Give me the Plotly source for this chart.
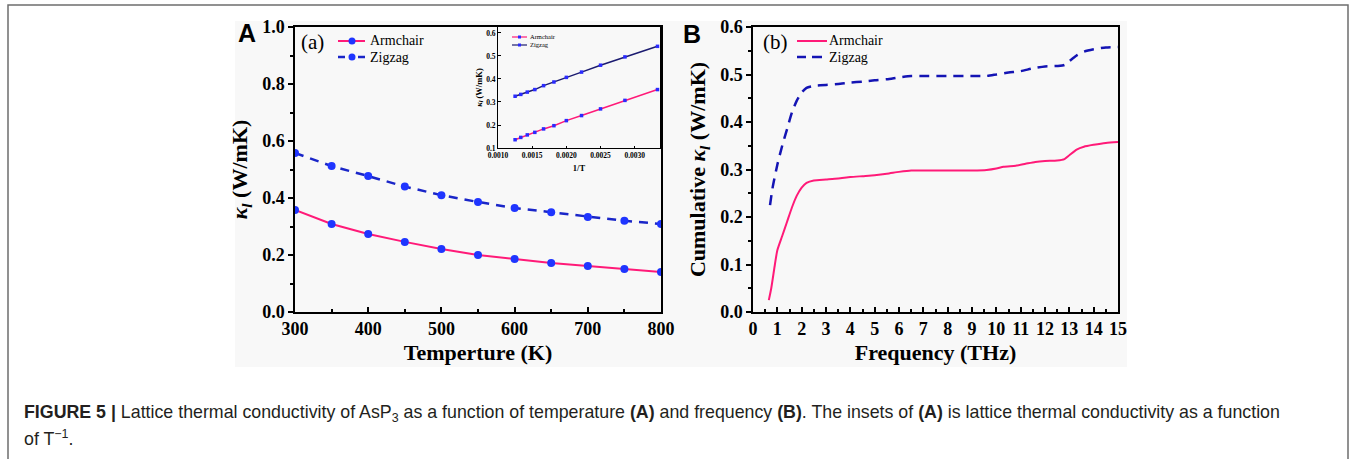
import plotly.graph_objects as go

W, H = 1356, 459

# ---------------- data ----------------
temperature = [300, 350, 400, 450, 500, 550, 600, 650, 700, 750, 800]
armchair_T = [0.358, 0.309, 0.274, 0.246, 0.221, 0.200, 0.186, 0.172, 0.161, 0.151, 0.140]
zigzag_T = [0.558, 0.512, 0.477, 0.440, 0.410, 0.386, 0.365, 0.350, 0.333, 0.320, 0.309]

# inset (kappa vs 1/T)
armchair_inset = [0.354, 0.307, 0.270, 0.241, 0.219, 0.197, 0.183, 0.168, 0.157, 0.146, 0.136]
zigzag_inset = [0.542, 0.496, 0.460, 0.430, 0.407, 0.387, 0.371, 0.354, 0.343, 0.333, 0.325]
inverse_T = [1.0 / t for t in temperature]

freq_arm = [0.65, 0.75, 0.9, 1.0, 1.2, 1.4, 1.6, 1.8, 2.0, 2.2, 2.5, 3.0, 3.5, 4.0, 4.5, 5.0,
            5.5, 6.0, 6.5, 7.0, 8.0, 9.0, 9.6, 10.0, 10.3, 10.8, 11.2, 11.6, 12.0, 12.5,
            12.8, 13.0, 13.3, 13.6, 14.0, 14.5, 15.0]
cum_arm = [0.025, 0.05, 0.10, 0.13, 0.16, 0.19, 0.22, 0.245, 0.262, 0.272, 0.277, 0.279, 0.281,
           0.284, 0.286, 0.288, 0.291, 0.295, 0.298, 0.298, 0.298, 0.298, 0.299, 0.302, 0.306,
           0.308, 0.312, 0.316, 0.318, 0.319, 0.322, 0.330, 0.342, 0.348, 0.352, 0.356, 0.358]
freq_zig = [0.7, 0.8, 1.0, 1.2, 1.4, 1.6, 1.8, 2.0, 2.2, 2.5, 3.0, 3.5, 4.0, 4.5, 5.0, 5.5,
            6.0, 6.5, 7.0, 8.0, 9.0, 9.6, 10.0, 10.5, 11.0, 11.5, 12.0, 12.5, 12.8, 13.0,
            13.3, 13.6, 14.0, 14.5, 15.0]
cum_zig = [0.225, 0.26, 0.31, 0.35, 0.385, 0.42, 0.445, 0.462, 0.472, 0.476, 0.478, 0.480,
           0.483, 0.485, 0.488, 0.490, 0.494, 0.497, 0.497, 0.497, 0.497, 0.497, 0.500, 0.504,
           0.507, 0.513, 0.517, 0.518, 0.520, 0.528, 0.540, 0.548, 0.553, 0.557, 0.558]

series_names = ["Armchair", "Zigzag"]

# ---------------- style ----------------
PINK = "#ff1a78"
BLUE_M = "#1f35ff"
NAVY_DASH = "#1a26c8"
NAVY_B = "#1414b4"
NAVY = "#1b1b70"
INSET_M = "#2a2aff"
SERIF = "Liberation Serif"
SANS = "Liberation Sans"


def px(x):
    return x / W


def py(y):
    return (H - y) / H


fig = go.Figure()

# Panel A
fig.add_trace(go.Scatter(x=temperature, y=armchair_T, mode="lines+markers", name=series_names[0],
                         line=dict(color=PINK, width=2), marker=dict(color=BLUE_M, size=8),
                         xaxis="x", yaxis="y", showlegend=False))
fig.add_trace(go.Scatter(x=temperature, y=zigzag_T, mode="lines+markers", name=series_names[1],
                         line=dict(color=NAVY_DASH, width=2.5, dash="9px,7px"),
                         marker=dict(color=BLUE_M, size=8),
                         xaxis="x", yaxis="y", showlegend=False))
# Inset
fig.add_trace(go.Scatter(x=inverse_T, y=armchair_inset, mode="lines+markers", name=series_names[0],
                         line=dict(color=PINK, width=1.5),
                         marker=dict(color=INSET_M, size=3.5, symbol="square"),
                         xaxis="x3", yaxis="y3", showlegend=False))
fig.add_trace(go.Scatter(x=inverse_T, y=zigzag_inset, mode="lines+markers", name=series_names[1],
                         line=dict(color=NAVY, width=1.5),
                         marker=dict(color=INSET_M, size=3.5, symbol="square"),
                         xaxis="x3", yaxis="y3", showlegend=False))
# Panel B
fig.add_trace(go.Scatter(x=freq_arm, y=cum_arm, mode="lines", name=series_names[0],
                         line=dict(color=PINK, width=2, shape="spline", smoothing=0.6),
                         xaxis="x2", yaxis="y2", showlegend=False))
fig.add_trace(go.Scatter(x=freq_zig, y=cum_zig, mode="lines", name=series_names[1],
                         line=dict(color=NAVY_B, width=2.5, dash="10px,7px", shape="spline",
                                   smoothing=0.6),
                         xaxis="x2", yaxis="y2", showlegend=False))

tickfont = dict(family=SERIF, size=18, color="black", weight="bold")
titlefont = dict(family=SERIF, size=22, color="black", weight="bold")
axis_common = dict(showline=True, linecolor="black", linewidth=1.5, mirror=True,
                   showgrid=False, zeroline=False, tickcolor="black", tickwidth=1.5,
                   tickfont=tickfont, automargin=False)

kappa = "<i>κ<sub>l</sub></i>"

fig.update_layout(
    template="none",
    width=W, height=H,
    margin=dict(l=0, r=0, t=0, b=0, pad=0, autoexpand=False),
    paper_bgcolor="white",
    plot_bgcolor="#f8f8f8",
    showlegend=False,
    xaxis=dict(domain=[px(295), px(661)], range=[300, 800], dtick=100, anchor="y",
               ticks="inside", ticklen=5,
               minor=dict(dtick=50, ticks="inside", ticklen=3, tickcolor="black"),
               title=dict(text="Temperture (K)", font=titlefont, standoff=6),
               **axis_common),
    yaxis=dict(domain=[py(312), py(27)], range=[0, 1.0], dtick=0.2, tickformat=".1f",
               anchor="x", ticks="outside", ticklen=5,
               minor=dict(dtick=0.1, ticks="outside", ticklen=3, tickcolor="black"),
               title=dict(text=kappa + " (W/mK)", font=titlefont, standoff=8),
               **axis_common),
    xaxis2=dict(domain=[px(753), px(1118)], range=[0, 15], dtick=1, anchor="y2",
                ticks="inside", ticklen=5,
                minor=dict(dtick=0.5, ticks="inside", ticklen=3, tickcolor="black"),
                title=dict(text="Frequency (THz)", font=titlefont, standoff=6),
                **axis_common),
    yaxis2=dict(domain=[py(312), py(27)], range=[0, 0.6], dtick=0.1, tickformat=".1f",
                anchor="x2", ticks="outside", ticklen=5,
                minor=dict(dtick=0.05, ticks="outside", ticklen=3, tickcolor="black"),
                title=dict(text="Cumulative " + kappa + " (W/mK)", font=titlefont, standoff=8),
                **axis_common),
    xaxis3=dict(domain=[px(498), px(660)], range=[0.001, 0.00337], dtick=0.0005,
                tickformat=".4f", anchor="y3", ticks="inside", ticklen=2.5,
                showline=True, linecolor="black", linewidth=1, mirror=True,
                showgrid=False, zeroline=False, tickcolor="black", tickwidth=1, automargin=False,
                tickfont=dict(family=SERIF, size=7.5, color="black", weight="bold"),
                title=dict(text="1/T", font=dict(family=SERIF, size=8.5, color="black",
                                                 weight="bold"), standoff=6)),
    yaxis3=dict(domain=[py(148), py(27)], range=[0.1, 0.626], dtick=0.1, tickformat=".1f",
                anchor="x3", ticks="inside", ticklen=2.5,
                showline=True, linecolor="black", linewidth=1, mirror=True,
                showgrid=False, zeroline=False, tickcolor="black", tickwidth=1, automargin=False,
                tickfont=dict(family=SERIF, size=7.5, color="black", weight="bold"),
                title=dict(text=kappa + " (W/mK)", font=dict(family=SERIF, size=8.5,
                                                             color="black", weight="bold"),
                           standoff=2)),
)


def hline(x0, x1, y, color, width):
    return dict(type="line", xref="paper", yref="paper", x0=px(x0), x1=px(x1),
                y0=py(y), y1=py(y), line=dict(color=color, width=width))


def dot(cx, cy, r, color, kind="circle"):
    return dict(type=kind, xref="paper", yref="paper", x0=px(cx - r), x1=px(cx + r),
                y0=py(cy + r), y1=py(cy - r), fillcolor=color, line=dict(width=0))


shapes = [
    # light grey figure panel background
    dict(type="rect", xref="paper", yref="paper", x0=px(235), x1=px(1127), y0=py(367), y1=py(21),
         fillcolor="#f8f8f8", line=dict(width=0), layer="below"),
    # outer frame
    dict(type="rect", xref="paper", yref="paper", x0=px(8), x1=px(1348), y0=py(475), y1=py(5),
         fillcolor="rgba(0,0,0,0)", line=dict(color="#6e6e6e", width=1.5), layer="above"),
    # legend (a)
    hline(338, 365, 41, PINK, 2), dot(352, 41, 3.5, BLUE_M),
    hline(338, 345, 57, NAVY_DASH, 2.5), hline(358, 365, 57, NAVY_DASH, 2.5),
    dot(352, 57, 3.5, BLUE_M),
    # legend (b)
    hline(797, 827, 41, PINK, 2),
    hline(797, 806, 57, NAVY_B, 2.5), hline(812, 822, 57, NAVY_B, 2.5),
    # inset legend
    hline(512, 527, 37, PINK, 1.2), hline(512, 527, 45, NAVY, 1.2),
    dot(519.5, 37, 1.5, INSET_M, "rect"), dot(519.5, 45, 1.5, INSET_M, "rect"),
]
fig.update_layout(shapes=shapes)

ann = []


def add_text(text, x, y, size, family=SERIF, xanchor="left", weight="normal", color="black"):
    ann.append(dict(text=text, x=px(x), y=py(y), xref="paper", yref="paper",
                    xanchor=xanchor, yanchor="middle", showarrow=False,
                    font=dict(family=family, size=size, color=color, weight=weight)))


add_text("A", 247, 33, 25, family=SANS, xanchor="center", weight="bold")
add_text("B", 692, 34, 25, family=SANS, xanchor="center", weight="bold")
add_text("(a)", 299, 42, 21)
add_text("(b)", 761, 42, 21)
add_text(series_names[0], 368, 41, 14)
add_text(series_names[1], 368, 57, 14)
add_text(series_names[0], 827, 41, 14)
add_text(series_names[1], 827, 57, 14)
add_text(series_names[0], 528, 37, 6.5)
add_text(series_names[1], 528, 45, 6.5)

caption1 = ("<b>FIGURE 5 |</b> Lattice thermal conductivity of AsP<sub>3</sub> as a function of "
            "temperature <b>(A)</b> and frequency <b>(B)</b>. The insets of <b>(A)</b> is lattice "
            "thermal conductivity as a function")
caption2 = "of T<sup>−1</sup>."
add_text(caption1, 22, 413, 17.8, family=SANS, color="#231f20")
add_text(caption2, 22, 438, 17.8, family=SANS, color="#231f20")

fig.update_layout(annotations=ann)

fig.write_html("out.html")
